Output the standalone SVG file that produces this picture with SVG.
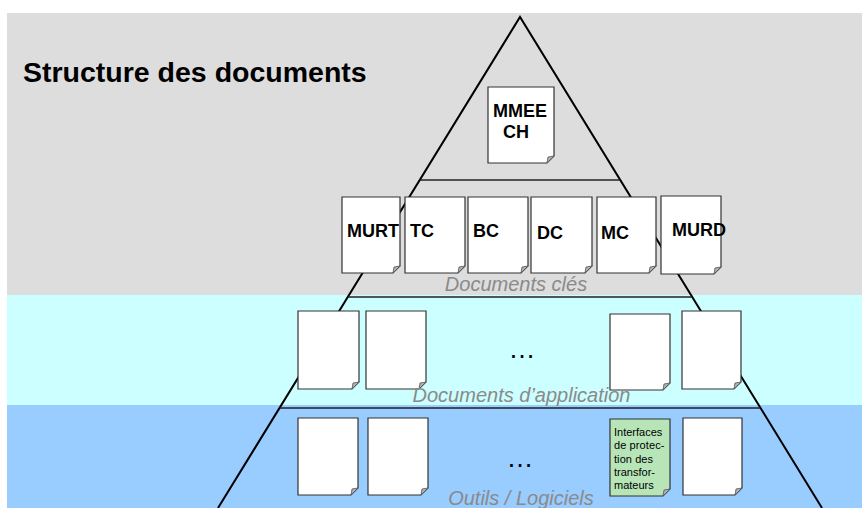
<svg xmlns="http://www.w3.org/2000/svg" width="862" height="508" viewBox="0 0 862 508">
<style>
.doc{fill:#fff;stroke:#333;stroke-width:1.2;stroke-linejoin:miter}
.green{fill:#b7e5b7}
.fold{fill:#b0b0b0;stroke:#555;stroke-width:0.8}
.lbl{font-family:"Liberation Sans",Arial,sans-serif;font-weight:bold;font-size:18px;fill:#000}
.lvl{font-family:"Liberation Sans",Arial,sans-serif;font-style:italic;font-size:20px;fill:#8a8a8a;text-anchor:middle}
.dots{font-family:"Liberation Sans",Arial,sans-serif;font-size:27px;fill:#000;text-anchor:middle}
.small{font-family:"Liberation Sans",Arial,sans-serif;font-size:11px;fill:#000}
.edge{stroke:#000;stroke-width:2;fill:none}
.tier{stroke:#222;stroke-width:1.5;fill:none}
</style>
<rect x="7" y="13" width="855" height="282" fill="#dddddd"/>
<rect x="7" y="295" width="855" height="110" fill="#ccffff"/>
<rect x="7" y="405" width="855" height="103" fill="#99ccff"/>
<text x="23" y="82" font-family="'Liberation Sans',Arial,sans-serif" font-weight="bold" font-size="28.5">Structure des documents</text>
<g id="pyramid">
<path class="edge" d="M218 508 L520 17 L822 508"/>
<path class="tier" d="M420 180 H620 M348 297 H692 M279.5 408 H760.5"/>
</g>
<g id="mmeech"><path class="doc" d="M488 87 H554 V156 L547 163 H488 Z"/><path class="fold" d="M554 156 L547 163 L548 157 Z"/><text class="lbl" font-size="19" x="493" y="117">MMEE</text><text class="lbl" font-size="19" x="503" y="138">CH</text></g>
<g id="murt"><path class="doc" d="M342 197 H400 V266 L393 273 H342 Z"/><path class="fold" d="M400 266 L393 273 L394 267 Z"/><text class="lbl" x="347" y="237">MURT</text></g>
<g id="tc"><path class="doc" d="M405 197 H465 V266 L458 273 H405 Z"/><path class="fold" d="M465 266 L458 273 L459 267 Z"/><text class="lbl" x="410" y="237">TC</text></g>
<g id="bc"><path class="doc" d="M468 197 H528 V266 L521 273 H468 Z"/><path class="fold" d="M528 266 L521 273 L522 267 Z"/><text class="lbl" x="473" y="237">BC</text></g>
<g id="dc"><path class="doc" d="M531 197 H592 V266 L585 273 H531 Z"/><path class="fold" d="M592 266 L585 273 L586 267 Z"/><text class="lbl" x="537" y="239">DC</text></g>
<g id="mc"><path class="doc" d="M597 197 H656 V266 L649 273 H597 Z"/><path class="fold" d="M656 266 L649 273 L650 267 Z"/><text class="lbl" x="601" y="239">MC</text></g>
<g id="murd"><path class="doc" d="M661 196 H721 V267 L714 274 H661 Z"/><path class="fold" d="M721 267 L714 274 L715 268 Z"/><text class="lbl" x="672" y="236">MURD</text></g>
<text class="lvl" x="516" y="291">Documents clés</text>
<g id="app1"><path class="doc" d="M298 311 H359 V382 L352 389 H298 Z"/><path class="fold" d="M359 382 L352 389 L353 383 Z"/></g>
<g id="app2"><path class="doc" d="M366 311 H426 V382 L419 389 H366 Z"/><path class="fold" d="M426 382 L419 389 L420 383 Z"/></g>
<g id="app3"><path class="doc" d="M610 314 H670 V383 L663 390 H610 Z"/><path class="fold" d="M670 383 L663 390 L664 384 Z"/></g>
<g id="app4"><path class="doc" d="M682 311 H741 V382 L734 389 H682 Z"/><path class="fold" d="M741 382 L734 389 L735 383 Z"/></g>
<text class="dots" x="522" y="357.5">…</text>
<text class="lvl" x="521.5" y="401.5">Documents d’application</text>
<g id="tool1"><path class="doc" d="M298 418 H358 V488 L351 495 H298 Z"/><path class="fold" d="M358 488 L351 495 L352 489 Z"/></g>
<g id="tool2"><path class="doc" d="M368 418 H428 V488 L421 495 H368 Z"/><path class="fold" d="M428 488 L421 495 L422 489 Z"/></g>
<g id="tool3"><path class="doc green" d="M610 419 H670 V489 L663 496 H610 Z"/><path class="fold" d="M670 489 L663 496 L664 490 Z"/>
<text class="small" x="614" y="436">Interfaces</text>
<text class="small" x="614" y="449.3" textLength="50.5" lengthAdjust="spacing">de protec-</text>
<text class="small" x="614" y="462.5" textLength="39" lengthAdjust="spacing">tion des</text>
<text class="small" x="614" y="475.8">transfor-</text>
<text class="small" x="614" y="489">mateurs</text></g>
<g id="tool4"><path class="doc" d="M683 418 H742 V488 L735 495 H683 Z"/><path class="fold" d="M742 488 L735 495 L736 489 Z"/></g>
<text class="dots" x="520" y="467">…</text>
<text class="lvl" x="521" y="505">Outils / Logiciels</text>
</svg>
